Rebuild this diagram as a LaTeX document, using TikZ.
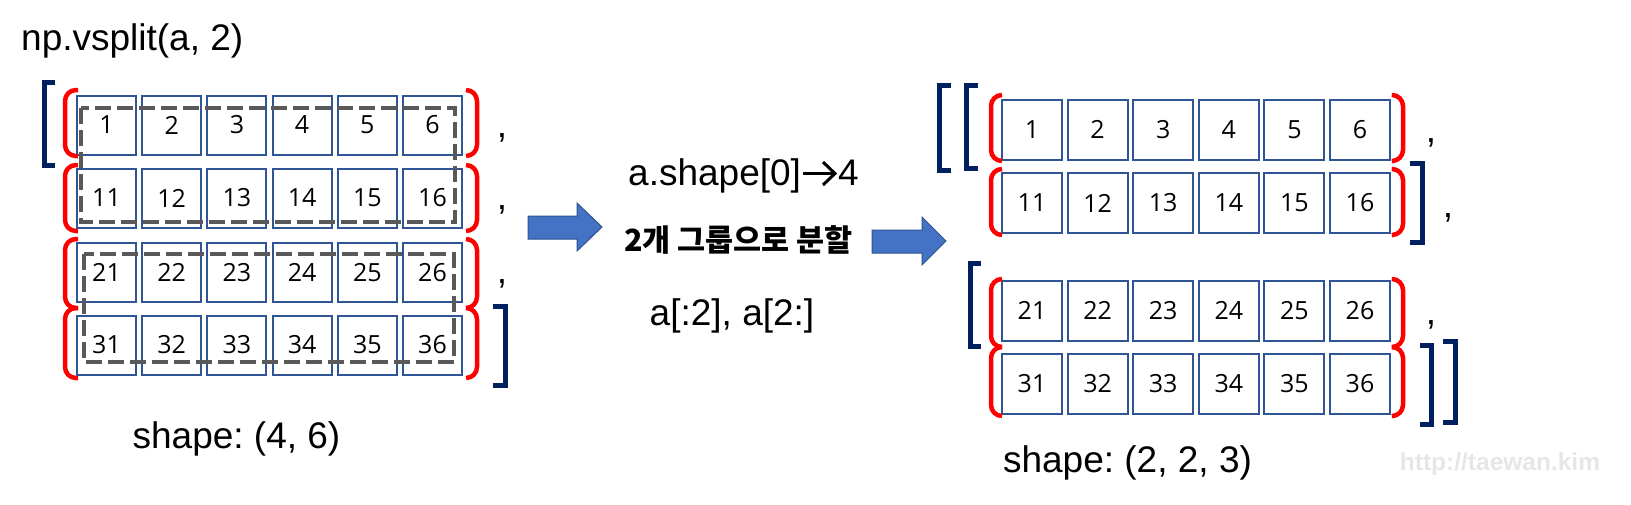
\documentclass[tikz,border=0pt]{standalone}
\usepackage{fontspec}
\setmainfont{Liberation Sans}
\newfontfamily\numf{Open Sans}
\newfontfamily\kr{Noto Sans CJK KR}
\definecolor{boxblue}{HTML}{2F5597}
\definecolor{parred}{HTML}{FF0000}
\definecolor{navy}{HTML}{002060}
\definecolor{dgray}{HTML}{595959}
\definecolor{arrowblue}{HTML}{4472C4}
\definecolor{arrowedge}{HTML}{2F528F}
\definecolor{wmgray}{HTML}{E6E6E6}
\frenchspacing
\begin{document}
\begin{tikzpicture}[x=1pt,y=-1pt,
  cell/.style={draw=boxblue, line width=2pt, minimum width=59pt, minimum height=59pt, inner sep=0pt, font=\numf\fontsize{25}{30}\selectfont},
  rcell/.style={cell, minimum width=60pt, minimum height=60pt},
  paren/.style={draw=parred, line width=4.5pt, rounded corners=11pt},
  brk/.style={draw=navy, line width=5pt, line join=miter},
  dashbox/.style={draw=dgray, line width=4.5pt, dash pattern=on 16pt off 6pt},
  lbl/.style={font=\fontsize{37}{44}\selectfont, inner sep=0pt},
  comma/.style={font=\fontsize{37}{44}\selectfont, inner sep=0pt, anchor=center},
  blockarrow/.style={fill=arrowblue, draw=arrowedge, line width=1pt},
  txtarrow/.style={draw=black, line width=3pt}]
\useasboundingbox (0,0) rectangle (1631,504);

% ---------- left array ----------
\node[lbl, anchor=base west] (title) at (21,50) {np.vsplit(a, 2)};
\foreach \r/\y/\b in {1/125/0, 2/198/10, 3/272.5/20, 4/345/30} {
  \foreach \c in {1,...,6} {
    \pgfmathtruncatemacro\val{\b+\c}
    \node[cell] (L\r\c) at ({106.5+65.2*(\c-1)},\y) {\val};
  }
}
% red parentheses (left group)
\foreach \t/\bt in {90/156, 165/231, 239/308, 308/378} {
  \draw[paren] (78,\t) -- (65,\t) -- (65,\bt) -- (78,\bt);
  \draw[paren] (466,\t) -- (477,\t) -- (477,\bt) -- (466,\bt);
}
% dashed groups
\draw[dashbox] (81,108) rectangle (455,222);
\draw[dashbox] (84,254) rectangle (454,362);
% navy brackets
\draw[brk] (55,82) -- (44.5,82) -- (44.5,165) -- (55,165);
\draw[brk] (493,306) -- (505,306) -- (505,385) -- (493,385);
% commas
\node[comma] (lc1) at (502,138) {,};
\node[comma] (lc2) at (502,210) {,};
\node[comma] (lc3) at (502,284) {,};
\node[lbl, anchor=base] (lshape) at (236.5,448) {shape: (4, 6)};

% ---------- middle ----------
\draw[blockarrow] (528,216) -- (577,216) -- (577,203) -- (602,227) -- (577,251) -- (577,239) -- (528,239) -- cycle;
\node[lbl, anchor=base west] (shp) at (628,185) {a.shape[0]};
\coordinate (ta1) at (803,173.5);
\coordinate (ta2) at (835,173.5);
\draw[txtarrow] (ta1) -- (ta2);
\draw[txtarrow, line join=miter] (823,162) -- (ta2) -- (823,185);
\node[lbl, anchor=base west] (four) at (838,185) {4};
\node[inner sep=0pt, font=\kr\bfseries\fontsize{30.5}{36}\selectfont] (kor) at (738.5,240) {2개 그룹으로 분할};
\node[lbl, anchor=base] (slc) at (732,325) {a[:2], a[2:]};
\draw[blockarrow] (872,230) -- (922,230) -- (922,217) -- (946,241) -- (922,265) -- (922,253) -- (872,253) -- cycle;

% ---------- right array ----------
\foreach \r/\y/\b in {1/129.5/0, 2/203/10, 3/310.5/20, 4/384/30} {
  \foreach \c in {1,...,6} {
    \pgfmathtruncatemacro\val{\b+\c}
    \node[rcell] (R\r\c) at ({1032+65.6*(\c-1)},\y) {\val};
  }
}
\foreach \t/\bt in {95/161, 169/235, 279/347, 347/416} {
  \draw[paren] (1002,\t) -- (991,\t) -- (991,\bt) -- (1002,\bt);
  \draw[paren] (1393,\t) -- (1403,\t) -- (1403,\bt) -- (1393,\bt);
}
\draw[brk] (951,85) -- (939,85) -- (939,170) -- (951,170);
\draw[brk] (978,85) -- (966,85) -- (966,168) -- (978,168);
\draw[brk] (1410,163) -- (1422,163) -- (1422,242) -- (1410,242);
\draw[brk] (981,263) -- (970,263) -- (970,346) -- (981,346);
\draw[brk] (1420,345) -- (1431,345) -- (1431,424) -- (1420,424);
\draw[brk] (1443,341) -- (1455,341) -- (1455,422) -- (1443,422);
\node[comma] (rc1) at (1431,143) {,};
\node[comma] (rc2) at (1448,218) {,};
\node[comma] (rc3) at (1431,325) {,};
\node[lbl, anchor=base] (rshape) at (1127.5,472) {shape: (2, 2, 3)};

% watermark
\node[inner sep=0pt, anchor=base, text=wmgray, font=\bfseries\fontsize{24.5}{29}\selectfont] (wm) at (1500,470) {http://taewan.kim};
\end{tikzpicture}
\end{document}
